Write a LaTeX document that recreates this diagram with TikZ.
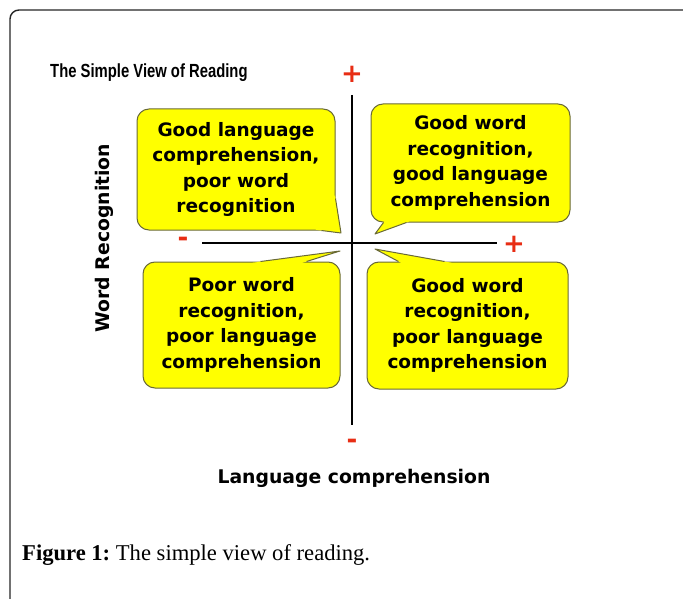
\documentclass[tikz,border=0pt]{standalone}
\usepackage{fontspec}
\setmainfont{DejaVu Sans}
\newfontfamily\titlefont[FakeStretch=0.78]{Liberation Sans}
\newfontfamily\capfont{Liberation Serif}
\usetikzlibrary{positioning,calc}
\definecolor{bubbleyellow}{RGB}{255,255,0}
\definecolor{bubbleline}{RGB}{105,105,55}
\definecolor{signred}{RGB}{232,45,20}
\tikzset{x=1pt, y=-1pt,   % one unit = one pixel of the reference, y runs down
         bubble/.style={  % yellow speech boxes
           rectangle,
           rounded corners=12pt,
           draw=bubbleline,
           fill=bubbleyellow,
           line width=1pt,
           align=center,
           inner sep=0pt,
           font=\fontsize{18.5}{25.5}\selectfont\bfseries},
         tail/.style={draw=bubbleline, line width=1pt, line join=round},
         sign/.style={text=signred, inner sep=0pt,
           font=\fontsize{26}{26}\selectfont\bfseries},
         axis/.style={line width=2pt, black},
         label/.style={inner sep=0pt, font=\fontsize{18.8}{20}\selectfont\bfseries}}

\begin{document}
\begin{tikzpicture}
\useasboundingbox (0,0) rectangle (683,599);
\fill[white] (0,0) rectangle (683,599);
\draw[line width=1.4pt, black!85, rounded corners=9pt] (10,599) -- (10,10) -- (683,10);

\node[inner sep=0pt, anchor=west, font=\titlefont\fontsize{19}{20}\selectfont\bfseries] (title) at (50,73) {The Simple View of Reading};

% signs and axes
\node[sign] (ytop) at (352,74) {+};
\node[sign] (ybot) at (352,444) {-};
\node[sign] (xleft) at (183,242) {-};
\node[sign] (xright) at (514,244) {+};
\coordinate (ya) at (352,95);
\coordinate (yb) at (352,425);
\coordinate (xa) at (202,243);
\coordinate (xb) at (497,243);
\draw[axis] (ya) -- (yb);
\draw[axis] (xa) -- (xb);

% boxes
\node[bubble, minimum width=198pt, minimum height=121pt] (gl) at (236,169.5)
  {Good language\\comprehension,\\poor word\\recognition};
\node[bubble, minimum width=199pt, minimum height=118pt] (gg) at (470.5,163)
  {Good word\\recognition,\\good language\\comprehension};
\node[bubble, minimum width=197pt, minimum height=126pt] (pp) at (241.5,325)
  {Poor word\\recognition,\\poor language\\comprehension};
\node[bubble, minimum width=201pt, minimum height=127pt] (gp) at (467.5,325.5)
  {Good word\\recognition,\\poor language\\comprehension};

% tails
\coordinate (glTip) at (341,233);
\coordinate (glA) at ($(gl.south east)+(0,-32)$);
\coordinate (glB) at ($(gl.south east)+(-14,0)$);
\fill[bubbleyellow] ($(glTip)!1.1!(glA)$) -- (glTip) -- ($(glTip)!1.3!(glB)$) -- cycle;
\draw[tail] (glA) -- (glTip) -- (glB);

\coordinate (ggTip) at (375,234);
\coordinate (ggA) at ($(gg.south west)+(36,0)$);
\coordinate (ggB) at ($(gg.south west)+(13,0)$);
\fill[bubbleyellow] ($(ggTip)!1.1!(ggA)$) -- (ggTip) -- ($(ggTip)!1.3!(ggB)$) -- cycle;
\draw[tail] (ggA) -- (ggTip) -- (ggB);

\coordinate (ppTip) at (340,251);
\coordinate (ppA) at ($(pp.north west)+(118,0)$);
\coordinate (ppB) at ($(pp.north west)+(164,0)$);
\fill[bubbleyellow] ($(ppTip)!1.1!(ppA)$) -- (ppTip) -- ($(ppTip)!1.3!(ppB)$) -- cycle;
\draw[tail] (ppA) -- (ppTip) -- (ppB);

\coordinate (gpTip) at (375,249);
\coordinate (gpA) at ($(gp.north west)+(78,0)$);
\coordinate (gpB) at ($(gp.north west)+(32,0)$);
\fill[bubbleyellow] ($(gpTip)!1.1!(gpA)$) -- (gpTip) -- ($(gpTip)!1.3!(gpB)$) -- cycle;
\draw[tail] (gpA) -- (gpTip) -- (gpB);

% axis labels
\node[label, rotate=90] (wr) at (104,238) {Word Recognition};
\node[label] (lc) at (354,478) {Language comprehension};

% caption
\node[inner sep=0pt, anchor=base west, font=\capfont\fontsize{22.6}{24}\selectfont] (cap) at (22,560)
  {\textbf{Figure 1:}~The simple view of reading.};
\end{tikzpicture}
\end{document}
